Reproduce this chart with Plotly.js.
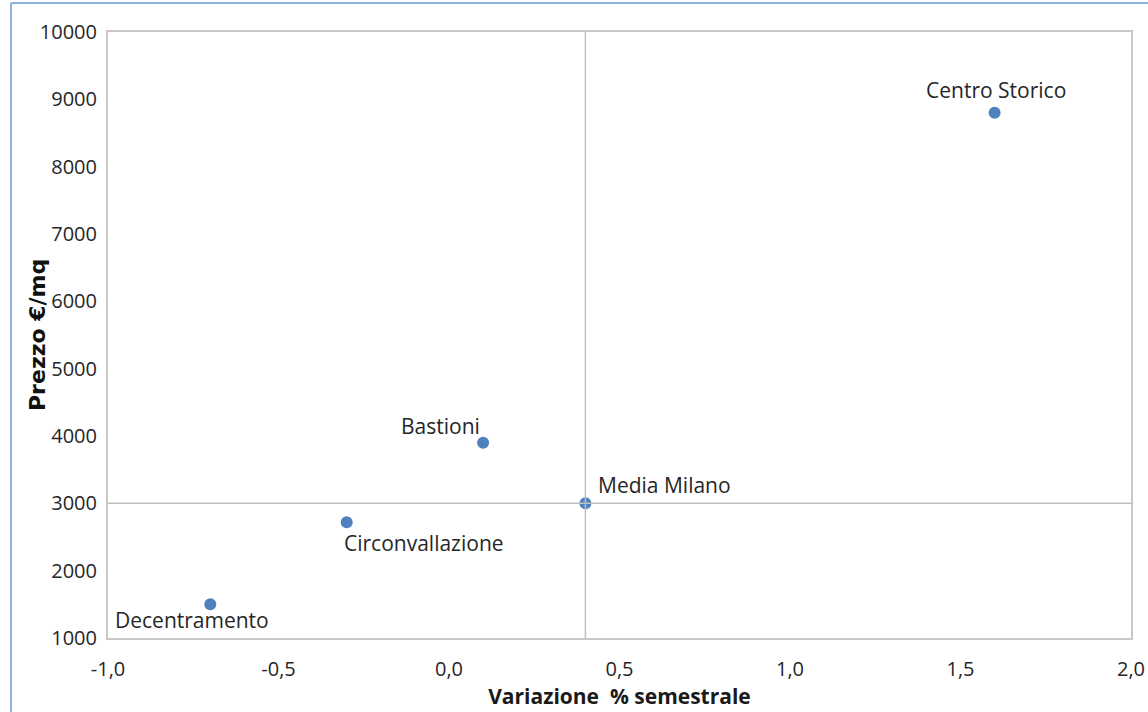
<!DOCTYPE html>
<html>
<head>
<meta charset="utf-8">
<script src="https://cdn.plot.ly/plotly-3.0.1.min.js"></script>
<style>html,body{margin:0;padding:0;background:#fff;}#chart{width:1148px;height:712px;}</style>
</head>
<body>
<div id="chart"></div>
<script>
const zones = ["Decentramento", "Circonvallazione", "Bastioni", "Media Milano", "Centro Storico"];
const variazione = [-0.7, -0.3, 0.1, 0.4, 1.6];
const prezzo = [1500, 2720, 3900, 3000, 8800];
const mediaX = 0.4;
const mediaY = 3000;
const xTicks = [-1.0, -0.5, 0.0, 0.5, 1.0, 1.5, 2.0];
const xTickText = ["-1,0", "-0,5", "0,0", "0,5", "1,0", "1,5", "2,0"];
const yTicks = [1000, 2000, 3000, 4000, 5000, 6000, 7000, 8000, 9000, 10000];
const xTitle = "Variazione  % semestrale";
const yTitle = "Prezzo €/mq";

// label offsets (px) per point
const labelShift = [[-18, -16], [77, -21], [-43, 17], [79, 18], [1, 23]];

const font = "Open Sans, Liberation Sans, sans-serif";

const annotations = zones.map((z, i) => ({
  x: variazione[i], y: prezzo[i], xref: 'x', yref: 'y',
  text: z, showarrow: false,
  xshift: labelShift[i][0], yshift: labelShift[i][1],
  font: {family: font, size: 21, color: '#262626'}
}));
annotations.push({
  xref: 'paper', yref: 'paper', x: -0.0694, y: 0.5, xanchor: 'center', yanchor: 'middle',
  text: yTitle, textangle: -90, showarrow: false,
  font: {size: 22, color: '#111', family: 'DejaVu Sans, sans-serif', weight: 'bold'}
});

const trace = {
  x: variazione, y: prezzo, type: 'scatter', mode: 'markers',
  marker: {color: '#4F81BD', size: 12},
  hoverinfo: 'skip'
};

const layout = {
  width: 1148, height: 712,
  margin: {l: 108, r: 17, t: 32, b: 74},
  paper_bgcolor: '#fff', plot_bgcolor: '#fff',
  showlegend: false,
  font: {family: font, color: '#333'},
  xaxis: {
    range: [-1, 2], tickmode: 'array', tickvals: xTicks, ticktext: xTickText,
    showgrid: false, zeroline: false,
    showline: true, mirror: true, linecolor: '#C8C8C8', linewidth: 2,
    ticks: '', ticklabelstandoff: 12, tickfont: {size: 20, color: '#262626'},
    title: {text: xTitle, font: {size: 21, color: '#1a1a1a', family: font, weight: 'bold'}, standoff: 2}
  },
  yaxis: {
    range: [1000, 10000], tickvals: yTicks, tickformat: 'd',
    showgrid: false, zeroline: false,
    showline: true, mirror: true, linecolor: '#C8C8C8', linewidth: 2,
    ticks: '', ticklabelstandoff: 5, tickfont: {size: 20, color: '#262626'}
  },
  shapes: [
    {type: 'line', xref: 'x', yref: 'paper', x0: mediaX, x1: mediaX, y0: 0, y1: 1, line: {color: '#BFBFBF', width: 1.5}, layer: 'above'},
    {type: 'line', xref: 'paper', yref: 'y', x0: 0, x1: 1, y0: mediaY, y1: mediaY, line: {color: '#BFBFBF', width: 1.5}, layer: 'above'},
    {type: 'line', xref: 'paper', yref: 'paper', x0: -0.0948, x1: -0.0948, y0: -0.2, y1: 1.048, line: {color: '#8DB3E2', width: 2}},
    {type: 'line', xref: 'paper', yref: 'paper', x0: -0.0948, x1: 1.1, y0: 1.048, y1: 1.048, line: {color: '#8DB3E2', width: 2}}
  ],
  annotations: annotations
};

Plotly.newPlot('chart', [trace], layout, {displayModeBar: false, staticPlot: true});
</script>
</body>
</html>
